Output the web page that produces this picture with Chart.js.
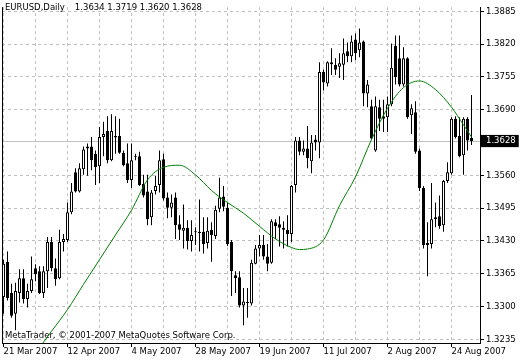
<!DOCTYPE html>
<html>
<head>
<meta charset="utf-8">
<script src="https://cdn.jsdelivr.net/npm/chart.js@4"></script>
<style>
  html, body { margin: 0; padding: 0; background: #fff; }
</style>
</head>
<body>
<canvas id="chart" width="520" height="360"></canvas>
<script>
const symbol = 'EURUSD';
const period = 'Daily';
const copyright = 'MetaTrader, \u00a9 2001-2007 MetaQuotes Software Corp.';

// date labels, one every 16 bars starting at bar 0
const dateLabels = ['21 Mar 2007', '12 Apr 2007', '4 May 2007', '28 May 2007',
                    '19 Jun 2007', '11 Jul 2007', '2 Aug 2007', '24 Aug 2007'];
const labelEvery = 16;
const gridEvery = 8;

const yTicks = [1.3885, 1.3820, 1.3755, 1.3690, 1.3560, 1.3495, 1.3430, 1.3365, 1.3300, 1.3235];

// daily OHLC, 118 bars
const opens = [
  1.3319,1.3389,1.3327,1.3286,1.3327,1.3356,1.3315,1.3331,1.3376,1.3370,
  1.3327,1.3370,1.3428,1.3376,1.3356,1.3428,1.3432,1.3487,1.3566,1.3528,
  1.3572,1.3613,1.3617,1.3603,1.3578,1.3636,1.3648,1.3590,1.3635,1.3638,
  1.3605,1.3584,1.3551,1.3596,1.3598,1.3543,1.3528,1.3477,1.3529,1.3541,
  1.3592,1.3516,1.3496,1.3516,1.3463,1.3450,1.3456,1.3430,1.3448,1.3446,
  1.3448,1.3426,1.3452,1.3440,1.3494,1.3518,1.3496,1.3428,1.3362,1.3358,
  1.3302,1.3308,1.3306,1.3385,1.3415,1.3422,1.3399,1.3387,1.3467,1.3463,
  1.3456,1.3452,1.3444,1.3541,1.3629,1.3607,1.3613,1.3588,1.3631,1.3625,
  1.3765,1.3742,1.3784,1.3779,1.3775,1.3779,1.3806,1.3796,1.3829,1.3808,
  1.3825,1.3722,1.3697,1.3609,1.3695,1.3677,1.3675,1.3701,1.3817,1.3792,
  1.3740,1.3792,1.3679,1.3685,1.3609,1.3535,1.3422,1.3424,1.3477,1.3479,
  1.3461,1.3549,1.3564,1.3672,1.3638,1.3600,1.3672,1.3634
];
const highs = [
  1.3393,1.3409,1.3345,1.3347,1.3374,1.3374,1.3345,1.3399,1.3384,1.3380,
  1.3380,1.3438,1.3438,1.3395,1.3452,1.3444,1.3506,1.3545,1.3574,1.3584,
  1.3617,1.3623,1.3636,1.3609,1.3656,1.3666,1.3677,1.3681,1.3677,1.3672,
  1.3609,1.3623,1.3623,1.3603,1.3607,1.3561,1.3561,1.3531,1.3559,1.3609,
  1.3603,1.3526,1.3522,1.3526,1.3481,1.3502,1.3471,1.3471,1.3457,1.3512,
  1.3477,1.3477,1.3467,1.3500,1.3555,1.3539,1.3506,1.3432,1.3370,1.3370,
  1.3337,1.3337,1.3393,1.3422,1.3442,1.3442,1.3424,1.3473,1.3473,1.3479,
  1.3469,1.3481,1.3541,1.3636,1.3636,1.3629,1.3658,1.3640,1.3640,1.3784,
  1.3769,1.3786,1.3812,1.3792,1.3802,1.3831,1.3823,1.3837,1.3841,1.3851,
  1.3827,1.3749,1.3710,1.3716,1.3710,1.3710,1.3716,1.3821,1.3837,1.3837,
  1.3814,1.3794,1.3701,1.3707,1.3613,1.3539,1.3467,1.3545,1.3506,1.3520,
  1.3551,1.3586,1.3675,1.3677,1.3675,1.3675,1.3675,1.3719
];
const lows = [
  1.3286,1.3312,1.3278,1.3253,1.3308,1.3306,1.3298,1.3327,1.3350,1.3325,
  1.3317,1.3337,1.3370,1.3341,1.3354,1.3409,1.3428,1.3483,1.3526,1.3526,
  1.3561,1.3559,1.3570,1.3541,1.3545,1.3598,1.3584,1.3588,1.3603,1.3603,
  1.3578,1.3545,1.3535,1.3590,1.3539,1.3516,1.3461,1.3461,1.3522,1.3526,
  1.3510,1.3475,1.3477,1.3434,1.3432,1.3415,1.3413,1.3409,1.3422,1.3409,
  1.3405,1.3415,1.3389,1.3434,1.3487,1.3489,1.3420,1.3321,1.3327,1.3298,
  1.3263,1.3278,1.3302,1.3384,1.3399,1.3393,1.3370,1.3385,1.3434,1.3419,
  1.3415,1.3419,1.3428,1.3526,1.3600,1.3600,1.3574,1.3564,1.3609,1.3594,
  1.3728,1.3736,1.3759,1.3759,1.3753,1.3749,1.3784,1.3784,1.3788,1.3794,
  1.3697,1.3695,1.3631,1.3607,1.3648,1.3646,1.3646,1.3697,1.3740,1.3736,
  1.3736,1.3672,1.3642,1.3603,1.3529,1.3415,1.3360,1.3415,1.3457,1.3454,
  1.3448,1.3545,1.3561,1.3633,1.3596,1.3561,1.3609,1.3620
];
const closes = [
  1.3385,1.3317,1.3282,1.3331,1.3356,1.3315,1.3331,1.3354,1.3364,1.3327,
  1.3370,1.3428,1.3376,1.3354,1.3428,1.3434,1.3487,1.3528,1.3528,1.3574,
  1.3611,1.3617,1.3590,1.3576,1.3636,1.3642,1.3590,1.3648,1.3638,1.3605,
  1.3580,1.3551,1.3590,1.3598,1.3541,1.3520,1.3473,1.3526,1.3539,1.3590,
  1.3514,1.3496,1.3506,1.3461,1.3452,1.3456,1.3430,1.3442,1.3447,1.3448,
  1.3424,1.3450,1.3442,1.3492,1.3516,1.3498,1.3424,1.3370,1.3356,1.3302,
  1.3310,1.3307,1.3387,1.3415,1.3422,1.3399,1.3385,1.3469,1.3459,1.3456,
  1.3452,1.3444,1.3539,1.3629,1.3607,1.3613,1.3594,1.3625,1.3625,1.3765,
  1.3744,1.3784,1.3780,1.3769,1.3782,1.3802,1.3796,1.3825,1.3802,1.3823,
  1.3722,1.3740,1.3633,1.3697,1.3672,1.3672,1.3701,1.3773,1.3755,1.3740,
  1.3792,1.3675,1.3693,1.3607,1.3535,1.3422,1.3426,1.3473,1.3473,1.3459,
  1.3549,1.3566,1.3672,1.3636,1.3598,1.3672,1.3629,1.3628
];

// green moving average, read at a few bars
const maBars   = [8, 12, 16, 20, 24, 28, 32, 36, 40, 44, 48, 52, 56, 60, 64, 68, 72, 74, 76,
                  80, 84, 88, 92, 96, 100, 104, 108, 112, 115, 117];
const maValues = [1.3208, 1.3251, 1.3294, 1.3344, 1.3393, 1.3442, 1.3491, 1.3551, 1.3576, 1.3580,
                  1.3561, 1.3530, 1.3506, 1.3485, 1.3459, 1.3434, 1.3417, 1.3413, 1.3414,
                  1.3432, 1.3500, 1.3557, 1.3631, 1.3693, 1.3734, 1.3747, 1.3730, 1.3695, 1.3660, 1.3636];

const last = opens.length - 1;
const lastPrice = closes[last];
const FONT = { family: "'DejaVu Sans', sans-serif", size: 8.5 };
const GRID = '#c0c0c0';

const gridBars = [];
for (let i = 0; i < opens.length; i += gridEvery) gridBars.push(i);

// background, price line, frame and texts
const mtDecor = {
    id: 'mtDecor',
    beforeDraw(chart) {
        const { ctx, width, height } = chart;
        ctx.save();
        ctx.fillStyle = '#fff';
        ctx.fillRect(0, 0, width, height);
        ctx.restore();
    },
    beforeDatasetsDraw(chart) {
        const { ctx, chartArea, scales } = chart;
        const y = Math.round(scales.y.getPixelForValue(lastPrice)) + 0.5;
        ctx.save();
        ctx.lineWidth = 1;
        ctx.strokeStyle = GRID;
        ctx.beginPath();
        ctx.moveTo(chartArea.left, y);
        ctx.lineTo(chartArea.right, y);
        ctx.stroke();

        ctx.strokeStyle = '#000';
        ctx.beginPath();
        ctx.moveTo(chartArea.left + 0.5, chartArea.top);
        ctx.lineTo(chartArea.left + 0.5, chartArea.bottom);
        ctx.stroke();

        ctx.fillStyle = '#000';
        ctx.font = FONT.size + 'px ' + FONT.family;
        ctx.textBaseline = 'alphabetic';
        const name = symbol + ',' + period;
        ctx.fillText(name, 5, 10);
        const ohlc = [opens[last], highs[last], lows[last], closes[last]].map(v => v.toFixed(4)).join(' ');
        ctx.fillText(ohlc, 5 + ctx.measureText(name).width + 10, 10);
        ctx.fillText(copyright, 5, 338);
        ctx.restore();
    }
};

new Chart(document.getElementById('chart'), {
    type: 'bar',
    data: {
        datasets: [
            {
                type: 'line',
                label: 'MA',
                order: 0,
                data: maBars.map((b, k) => ({ x: b, y: maValues[k] })),
                borderColor: '#008000',
                borderWidth: 1,
                pointRadius: 0,
                cubicInterpolationMode: 'monotone',
                fill: false
            },
            {
                label: 'body',
                order: 1,
                data: opens.map((o, i) => ({ x: i, y: [Math.min(o, closes[i]), Math.max(o, closes[i])] })),
                backgroundColor: opens.map((o, i) => closes[i] >= o ? '#fff' : '#000'),
                borderColor: '#000',
                borderWidth: 1,
                borderSkipped: false,
                barThickness: 3,
                minBarLength: 1,
                inflateAmount: 0,
                grouped: false
            },
            {
                label: 'wick',
                order: 2,
                data: lows.map((l, i) => ({ x: i, y: [l, highs[i]] })),
                backgroundColor: '#000',
                borderWidth: 0,
                barThickness: 1,
                inflateAmount: 0,
                grouped: false
            }
        ]
    },
    options: {
        responsive: false,
        animation: false,
        devicePixelRatio: 1,
        events: [],
        layout: { autoPadding: false, padding: { left: 2, top: 1, right: 0, bottom: 0 } },
        plugins: { legend: { display: false }, tooltip: { enabled: false } },
        scales: {
            x: {
                type: 'linear',
                position: 'bottom',
                min: -0.375,
                max: 119.125,
                offset: false,
                afterBuildTicks: s => { s.ticks = gridBars.map(v => ({ value: v })); },
                afterFit: s => { s.height = 17; },
                grid: {
                    offset: false,
                    color: GRID,
                    tickLength: 4,
                    tickColor: ctx => (ctx.tick && ctx.tick.value % labelEvery === 0) ? '#000' : 'rgba(0,0,0,0)'
                },
                border: { color: '#000', dash: [3, 3] },
                ticks: {
                    font: FONT,
                    color: '#000',
                    padding: 0,
                    align: 'start',
                    maxRotation: 0,
                    autoSkip: false,
                    callback: v => v % labelEvery === 0 ? dateLabels[v / labelEvery] : ''
                }
            },
            y: {
                type: 'linear',
                position: 'right',
                min: 1.32278,
                max: 1.389337,
                afterBuildTicks: s => { s.ticks = yTicks.concat([lastPrice]).map(v => ({ value: v })); },
                afterFit: s => { s.width = 40; },
                grid: {
                    color: ctx => (ctx.tick && ctx.tick.value === lastPrice) ? 'rgba(0,0,0,0)' : GRID,
                    tickLength: 4,
                    tickColor: '#000'
                },
                border: { color: '#000', dash: [3, 3] },
                ticks: {
                    font: FONT,
                    autoSkip: false,
                    padding: 2,
                    color: ctx => (ctx.tick && ctx.tick.value === lastPrice) ? '#fff' : '#000',
                    showLabelBackdrop: ctx => !!(ctx.tick && ctx.tick.value === lastPrice),
                    backdropColor: '#000',
                    backdropPadding: { top: 1, bottom: 1, left: 5, right: 3 },
                    callback: v => v.toFixed(4)
                }
            }
        }
    },
    plugins: [mtDecor]
});
</script>
</body>
</html>
